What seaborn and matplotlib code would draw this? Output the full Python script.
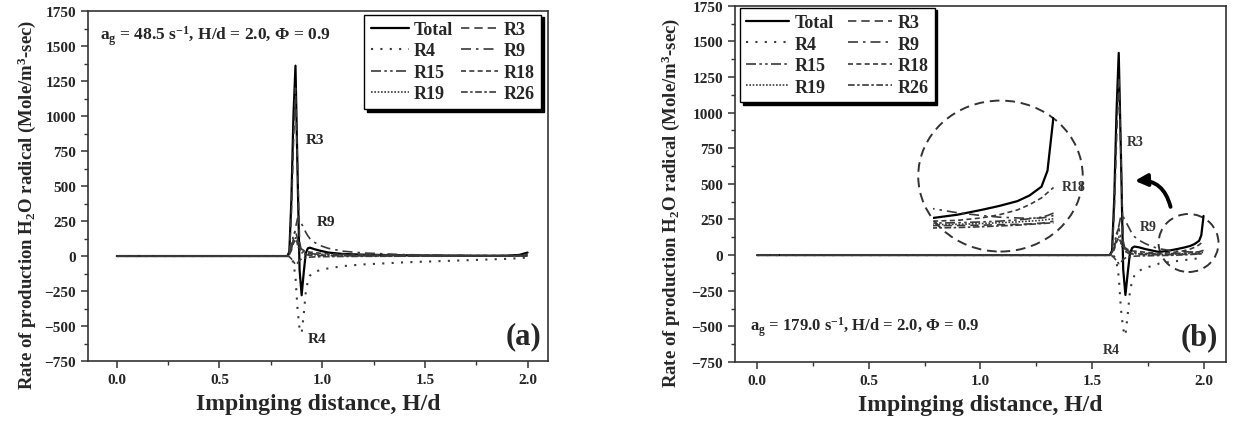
import numpy as np
import pandas as pd
import matplotlib
matplotlib.use("Agg")
import matplotlib.pyplot as plt
from matplotlib.patches import Ellipse
from matplotlib.ticker import MultipleLocator
import seaborn as sns

# panel (a): a_g = 48.5 1/s
hd_a = [0.0, 0.81, 0.83, 0.84, 0.85, 0.86, 0.87, 0.88, 0.89, 0.90, 0.91, 0.92, 0.93,
        0.94, 0.96, 0.99, 1.03, 1.1, 1.2, 1.4, 1.6, 1.8, 1.9, 1.96, 2.0]
total_a = [0, 0, 0, 30, 400, 1000, 1360, 600, -100, -280, -120, 20, 55, 60, 50, 38, 25, 15, 10, 5, 3, 2, 3, 8, 25]
r3_a = [0, 0, 0, 20, 300, 800, 1200, 650, 100, 30, 15, 10, 8, 6, 5, 4, 3, 2, 1, 0, 0, 0, 0, 0, 0]
r4_a = [0, 0, 0, 0, -10, -50, -150, -380, -520, -550, -420, -260, -180, -140, -115, -100, -88, -72, -60, -45, -35, -25, -20, -15, -10]
r9_a = [0, 0, 0, 10, 50, 120, 200, 270, 260, 230, 200, 170, 145, 125, 100, 75, 55, 35, 22, 10, 5, 3, 2, 2, 3]
r15_a = [0, 0, 0, 20, 80, 150, 180, 120, 60, 40, 30, 25, 20, 18, 15, 12, 10, 8, 6, 4, 3, 2, 2, 3, 6]
r18_a = [0, 0, 0, 10, 40, 90, 120, 90, 60, 50, 40, 35, 30, 28, 25, 20, 16, 12, 9, 6, 4, 3, 3, 5, 12]
r19_a = [0, 0, 0, 15, 60, 110, 130, 80, 40, 25, 18, 14, 12, 10, 9, 8, 6, 5, 4, 3, 2, 1, 1, 2, 4]
r26_a = [0, 0, 0, -5, -20, -40, -60, -50, -30, -20, -15, -12, -10, -8, -6, -5, -4, -3, -2, -1, -1, 0, 0, 0, 0]

# panel (b): a_g = 179.0 1/s
hd_b = [0.0, 1.56, 1.58, 1.59, 1.60, 1.61, 1.62, 1.63, 1.64, 1.65, 1.66, 1.67, 1.68,
        1.69, 1.71, 1.74, 1.77, 1.80, 1.84, 1.88, 1.91, 1.94, 1.96, 1.98, 1.99, 2.0]
total_b = [0, 0, 0, 30, 400, 1000, 1420, 700, -100, -280, -130, 10, 50, 60, 55, 42, 32, 22, 30, 42, 52, 64, 78, 100, 140, 275]
r3_b = [0, 0, 0, 20, 300, 800, 1250, 700, 100, 30, 15, 10, 8, 6, 5, 4, 3, 3, 3, 4, 5, 6, 7, 9, 11, 14]
r4_b = [0, 0, 0, 0, -10, -50, -150, -380, -520, -565, -420, -260, -180, -145, -110, -90, -75, -60, -50, -42, -36, -30, -26, -22, -20, -18]
r9_b = [0, 0, 0, 10, 50, 120, 200, 280, 270, 240, 210, 180, 150, 130, 105, 80, 60, 45, 35, 28, 24, 22, 21, 22, 24, 28]
r15_b = [0, 0, 0, 20, 80, 150, 190, 120, 60, 40, 30, 25, 20, 18, 15, 12, 10, 9, 10, 12, 14, 17, 20, 24, 28, 34]
r18_b = [0, 0, 0, 10, 40, 90, 120, 90, 60, 50, 40, 35, 30, 28, 25, 20, 16, 14, 16, 22, 30, 42, 55, 72, 85, 98]
r19_b = [0, 0, 0, 15, 60, 110, 130, 80, 40, 25, 18, 14, 12, 10, 9, 8, 6, 5, 6, 8, 10, 12, 14, 16, 18, 20]
r26_b = [0, 0, 0, -5, -20, -40, -60, -50, -30, -20, -15, -12, -10, -8, -6, -5, -4, -3, -2, 0, 2, 4, 6, 8, 9, 10]

names = ["Total", "R3", "R4", "R9", "R15", "R18", "R19", "R26"]
legend_order = ["Total", "R4", "R15", "R19", "R3", "R9", "R18", "R26"]

gray = "#3a3a3a"
styles = {
    "Total": dict(color="black", lw=1.6, ls="-"),
    "R3": dict(color=gray, lw=1.2, ls=(0, (5, 3))),
    "R4": dict(color=gray, lw=1.5, ls=(0, (1, 3.5))),
    "R9": dict(color=gray, lw=1.2, ls=(0, (6, 3, 1.5, 3))),
    "R15": dict(color=gray, lw=1.2, ls=(0, (6, 2, 1.5, 2, 1.5, 2))),
    "R18": dict(color=gray, lw=1.2, ls=(0, (3, 2))),
    "R19": dict(color=gray, lw=1.2, ls=(0, (1, 1))),
    "R26": dict(color=gray, lw=1.2, ls=(0, (4, 1.5, 1.5, 1.5))),
}

sns.set_style("ticks")
plt.rcParams["font.family"] = ["Liberation Serif", "DejaVu Serif"]
plt.rcParams["font.weight"] = "bold"
plt.rcParams["axes.labelweight"] = "bold"
plt.rcParams["mathtext.fontset"] = "custom"
plt.rcParams["mathtext.rm"] = "Liberation Serif:bold"
plt.rcParams["mathtext.it"] = "Liberation Serif:bold"
plt.rcParams["mathtext.bf"] = "Liberation Serif:bold"

fig = plt.figure(figsize=(12.35, 4.31), dpi=100)
ax_a = fig.add_axes([0.0713, 0.160, 0.3725, 0.812])
ax_b = fig.add_axes([0.595, 0.158, 0.3976, 0.826])


def draw_lines(ax, hd, series, legend=True):
    for name in names:
        st = styles[name]
        sns.lineplot(x=hd, y=series[name], ax=ax, color=st["color"], lw=st["lw"],
                     linestyle=st["ls"], label=name if legend else None)


def style_axes(ax, xmin):
    ax.set_xlim(xmin, 2.1)
    ax.set_ylim(-750, 1750)
    ax.xaxis.set_minor_locator(MultipleLocator(0.25))
    ax.yaxis.set_major_locator(MultipleLocator(250))
    ax.yaxis.set_minor_locator(MultipleLocator(125))
    ax.set_xticks(np.arange(0, 2.01, 0.5))
    ax.set_xticklabels(["0.0", "0.5", "1.0", "1.5", "2.0"])
    for sp in ax.spines.values():
        sp.set_visible(True)
        sp.set_color("#333333")
        sp.set_linewidth(1.2)
    ax.tick_params(which="major", direction="out", length=5, width=1.1, color="#333333",
                   labelsize=11, top=False, right=False)
    ax.tick_params(which="minor", direction="out", length=3, width=1.0, color="#333333",
                   top=False, right=False)
    for lab in ax.get_xticklabels() + ax.get_yticklabels():
        lab.set_fontweight("bold")
    ax.set_xlabel("Impinging distance, H/d", fontsize=17, fontweight="bold", labelpad=5)
    ax.set_ylabel("Rate of production H$_2$O radical (Mole/m$^3$-sec)", fontsize=13.5,
                  fontweight="bold")
    ax.yaxis.set_label_coords(-0.108, 0.45)


def add_legend(ax, loc, anchor, hl, cs):
    handles, labels = ax.get_legend_handles_labels()
    lookup = dict(zip(labels, handles))
    leg = ax.legend([lookup[n] for n in legend_order], legend_order, ncol=2, loc=loc,
                    bbox_to_anchor=anchor, borderaxespad=0, fancybox=False,
                    shadow={"color": "black", "alpha": 1}, handlelength=hl,
                    labelspacing=0.25, columnspacing=cs, handletextpad=0.3,
                    borderpad=0.35,
                    prop={"family": "Liberation Serif", "weight": "bold", "size": 13})
    leg.get_frame().set_edgecolor("black")
    leg.get_frame().set_linewidth(1.0)
    leg.get_frame().set_alpha(1)


series_a = dict(zip(names, [total_a, r3_a, r4_a, r9_a, r15_a, r18_a, r19_a, r26_a]))
series_b = dict(zip(names, [total_b, r3_b, r4_b, r9_b, r15_b, r18_b, r19_b, r26_b]))

# panel (a)
draw_lines(ax_a, hd_a, series_a)
style_axes(ax_a, -0.14)
add_legend(ax_a, "upper right", (0.985, 0.99), 2.1, 0.4)
ax_a.text(0.025, 0.965, "a$_g$ = 48.5 s$^{-1}$, H/d = 2.0, \u03a6 = 0.9", transform=ax_a.transAxes,
          fontsize=12.5, fontweight="bold", va="top", ha="left")
ax_a.text(0.92, 830, "R3", fontsize=11, fontweight="bold", va="center")
ax_a.text(0.975, 245, "R9", fontsize=11, fontweight="bold", va="center")
ax_a.text(0.93, -590, "R4", fontsize=11, fontweight="bold", va="center")
ax_a.text(0.985, 0.03, "(a)", transform=ax_a.transAxes, fontsize=22, fontweight="bold",
          ha="right", va="bottom")

# panel (b)
draw_lines(ax_b, hd_b, series_b)
style_axes(ax_b, -0.1)
add_legend(ax_b, "upper left", (0.01, 0.995), 2.4, 0.8)
ax_b.text(0.03, 0.10, "a$_g$ = 179.0 s$^{-1}$, H/d = 2.0, \u03a6 = 0.9", transform=ax_b.transAxes,
          fontsize=12, fontweight="bold", va="center", ha="left")
ax_b.text(1.655, 800, "R3", fontsize=10, fontweight="bold", va="center", color="#333333")
ax_b.text(1.715, 200, "R9", fontsize=10, fontweight="bold", va="center", color="#333333")
ax_b.text(1.55, -660, "R4", fontsize=10, fontweight="bold", va="center", color="#333333")
ax_b.text(0.985, 0.03, "(b)", transform=ax_b.transAxes, fontsize=22, fontweight="bold",
          ha="right", va="bottom")

# zoomed view of the near-wall region
ins = ax_b.inset_axes([0.404, 0.374, 0.245, 0.315])
draw_lines(ins, hd_b, series_b, legend=False)
ins.set_xlim(1.80, 2.0)
ins.set_ylim(-5, 275)
ins.set_xticks([])
ins.set_yticks([])
ins.set_xlabel("")
ins.set_ylabel("")
ins.axis("off")
ins.text(1.07, 0.375, "R18", transform=ins.transAxes, fontsize=10, fontweight="bold",
         va="center", ha="left", color="#333333", clip_on=False)

ax_b.add_patch(Ellipse((0.541, 0.522), 0.335, 0.424, transform=ax_b.transAxes, fill=False,
                       ls=(0, (5, 3)), lw=1.4, color="#333333"))
ax_b.add_patch(Ellipse((0.924, 0.334), 0.122, 0.163, transform=ax_b.transAxes, fill=False,
                       ls=(0, (5, 3)), lw=1.4, color="#333333"))
ax_b.annotate("", xy=(1.68, 520), xytext=(1.855, 320),
              arrowprops=dict(arrowstyle="-|>", color="black", lw=2.8, mutation_scale=18,
                              connectionstyle="arc3,rad=0.45"))

fig.savefig("out.png", dpi=100)
